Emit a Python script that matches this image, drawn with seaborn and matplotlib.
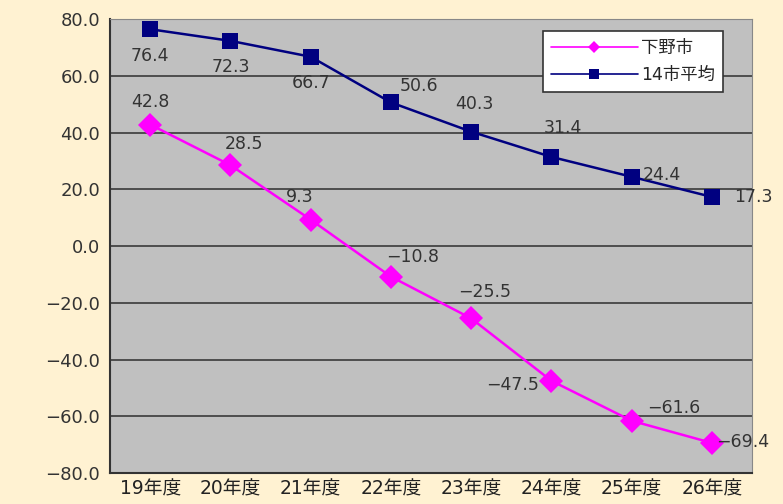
import pandas as pd
import seaborn as sns
import matplotlib.pyplot as plt

# data
years = ["19年度", "20年度", "21年度", "22年度", "23年度", "24年度", "25年度", "26年度"]
shimotsuke = [42.8, 28.5, 9.3, -10.8, -25.5, -47.5, -61.6, -69.4]
avg14 = [76.4, 72.3, 66.7, 50.6, 40.3, 31.4, 24.4, 17.3]
series_names = ["下野市", "14市平均"]

df = pd.DataFrame({
    "year": years * 2,
    "value": shimotsuke + avg14,
    "series": [series_names[0]] * len(years) + [series_names[1]] * len(years),
})
df["x"] = df["year"].map({y: i for i, y in enumerate(years)})

sns.set_style("white")
plt.rcParams["font.family"] = ["DejaVu Sans", "Noto Sans CJK JP"]

fig = plt.figure(figsize=(7.83, 5.04), dpi=100, facecolor="#FFF2D2")
ax = fig.add_axes([0.1405, 0.0615, 0.8199, 0.9008])
ax.set_facecolor("#C0C0C0")

sns.lineplot(data=df, x="x", y="value", hue="series", style="series",
             palette={"下野市": "#FF00FF", "14市平均": "#000080"},
             markers={"下野市": "D", "14市平均": "s"}, dashes=False,
             markersize=12, linewidth=1.8, markeredgewidth=0, ax=ax)

ax.set_xlim(-0.5, len(years) - 0.5)
ax.set_ylim(-80, 80)
ax.set_yticks(range(-80, 81, 20))
ax.set_yticklabels([f"{v:.1f}".replace("-", "−") for v in range(-80, 81, 20)],
                   fontsize=13, color="#333333")
ax.set_xticks(range(len(years)))
ax.set_xticklabels(years, fontsize=13.5, color="#222222")
ax.set_xticks([i + 0.5 for i in range(len(years) - 1)], minor=True)
ax.tick_params(axis="x", which="major", length=0, pad=5)
ax.tick_params(axis="x", which="minor", length=5, direction="in", color="#333333")
ax.tick_params(axis="y", length=0, pad=7)
ax.grid(axis="y", color="#444444", linewidth=1.3)
ax.set_axisbelow(True)
ax.set_xlabel("")
ax.set_ylabel("")
for side in ["top", "right"]:
    ax.spines[side].set_color("#888888")
for side in ["left", "bottom"]:
    ax.spines[side].set_color("#333333")
    ax.spines[side].set_linewidth(1.5)

# value labels (offsets in points)
off_avg = [(0, -19), (0, -19), (0, -19), (20, 12), (2, 20), (8, 21), (22, 1), (30, 0)]
off_shi = [(0, 16), (10, 15), (-8, 16), (16, 14), (10, 19), (-28, -3), (30, 9), (22, 1)]
for i, (v, o) in enumerate(zip(avg14, off_avg)):
    ax.annotate(f"{v:.1f}", (i, v), xytext=o, textcoords="offset points",
                ha="center", va="center", fontsize=12.5, color="#333333")
for i, (v, o) in enumerate(zip(shimotsuke, off_shi)):
    ax.annotate(f"{v:.1f}".replace("-", "−"), (i, v), xytext=o, textcoords="offset points",
                ha="center", va="center", fontsize=12.5, color="#333333")

leg = ax.legend(loc="upper right", bbox_to_anchor=(0.963, 0.985), frameon=True,
                fancybox=False, edgecolor="#333333", facecolor="white", framealpha=1,
                fontsize=12.5, handlelength=5, borderpad=0.45, labelspacing=0.55,
                markerscale=0.55, handletextpad=0.2, borderaxespad=0.3)
leg.get_frame().set_linewidth(1.2)
for h in leg.get_lines():
    h.set_linewidth(1.2)

fig.savefig("out.png", dpi=100, facecolor=fig.get_facecolor())
